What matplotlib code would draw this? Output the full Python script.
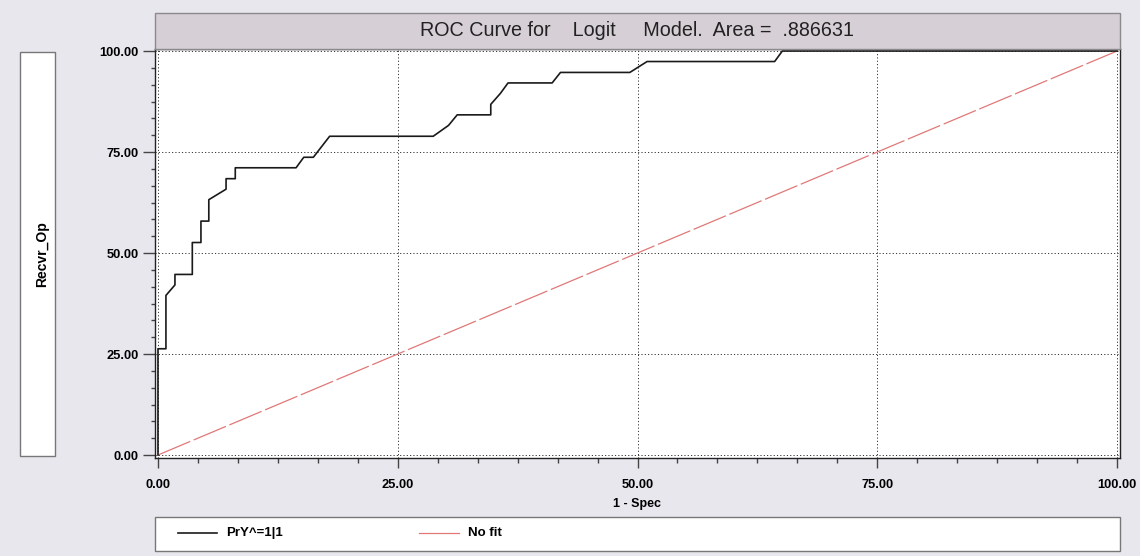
import matplotlib.pyplot as plt
from matplotlib.lines import Line2D
from matplotlib.patches import Rectangle
from matplotlib.ticker import MultipleLocator

plt.rcParams['font.family'] = ['Liberation Sans', 'DejaVu Sans']

# ROC curve points (1 - Spec, Recvr_Op)
spec = [0, 0, 0.83, 0.83, 1.77, 1.77, 3.58, 3.58, 4.48, 4.48, 5.3, 5.3, 7.1, 7.1,
        8.06, 8.06, 14.4, 15.2, 16.2, 17.9, 28.7, 30.3, 31.2, 34.7, 34.7, 35.7,
        36.5, 41.1, 41.97, 49.2, 51.0, 64.3, 65.1, 100]
recvr = [0, 26.3, 26.3, 39.5, 42.1, 44.7, 44.7, 52.6, 52.6, 57.9, 57.9, 63.2, 65.8, 68.4,
         68.4, 71.1, 71.1, 73.7, 73.7, 78.9, 78.9, 81.6, 84.2, 84.2, 86.8, 89.5,
         92.1, 92.1, 94.7, 94.7, 97.4, 97.4, 100, 100]
nofit_x = [0, 100]
nofit_y = [0, 100]

title = "ROC Curve for    Logit     Model.  Area =  .886631"
labels = ["PrY^=1|1", "No fit"]

W, H = 1140, 556
bg = '#e9e7ee'
fig = plt.figure(figsize=(W / 100, H / 100), dpi=100, facecolor=bg)


def box(x0, y0, x1, y1):
    # pixel box (top-down) -> figure coords
    return x0 / W, 1 - y1 / H, (x1 - x0) / W, (y1 - y0) / H


ax = fig.add_axes(box(155, 49, 1120, 458))
ax.plot(spec, recvr, color='#1a1a1a', lw=1.2, zorder=3)
ax.plot(nofit_x, nofit_y, color='#e07878', lw=0.9, dashes=(28, 3), zorder=2)

ax.set_xlim(-0.31, 100.31)
ax.set_ylim(-0.74, 100.5)
ax.xaxis.set_major_locator(MultipleLocator(25))
ax.yaxis.set_major_locator(MultipleLocator(25))
ax.xaxis.set_minor_locator(MultipleLocator(25 / 6))
ax.yaxis.set_minor_locator(MultipleLocator(25 / 6))
ax.xaxis.set_major_formatter('{x:.2f}')
ax.yaxis.set_major_formatter('{x:.2f}')
ax.grid(True, which='major', color='#333333', lw=0.7, linestyle=(0, (1.2, 2.2)))
ax.tick_params(axis='y', which='major', length=8.6, width=1, color='#444444', pad=3)
ax.tick_params(axis='y', which='minor', length=3.2, width=1, color='#444444')
ax.tick_params(axis='x', which='major', length=7.2, width=1, color='#444444', pad=8)
ax.tick_params(axis='x', which='minor', length=3.6, width=1, color='#444444')
for lab in ax.get_xticklabels() + ax.get_yticklabels():
    lab.set_fontweight('bold')
    lab.set_fontsize(9.3)
for s in ax.spines.values():
    s.set_color('#222222')
    s.set_linewidth(1.0)

# title band
fig.patches.append(Rectangle(box(155, 13, 1120, 49)[:2], *box(155, 13, 1120, 49)[2:],
                             transform=fig.transFigure, facecolor='#d7cfd6',
                             edgecolor='#8a8a8a', lw=1))
fig.text(637 / W, 1 - 31 / H, title, ha='center', va='center', fontsize=14.2, color='#222222')

# y label box
fig.patches.append(Rectangle(box(20, 52, 55, 456)[:2], *box(20, 52, 55, 456)[2:],
                             transform=fig.transFigure, facecolor='white',
                             edgecolor='#777777', lw=1))
fig.text(42 / W, 1 - 254 / H, 'Recvr_Op', rotation=90, ha='center', va='center',
         fontsize=10, fontweight='bold')

# x label
fig.text(637 / W, 1 - 504 / H, '1 - Spec', ha='center', va='center',
         fontsize=9, fontweight='bold')

# legend box
fig.patches.append(Rectangle(box(155, 517, 1120, 551)[:2], *box(155, 517, 1120, 551)[2:],
                             transform=fig.transFigure, facecolor='white',
                             edgecolor='#777777', lw=1))
yl = 1 - 533 / H
fig.lines.append(Line2D([178 / W, 217 / W], [yl, yl], transform=fig.transFigure,
                        color='#1a1a1a', lw=1.2))
fig.text(226 / W, yl, labels[0], ha='left', va='center', fontsize=9.5, fontweight='bold')
fig.lines.append(Line2D([419 / W, 459 / W], [yl, yl], transform=fig.transFigure,
                        color='#e07878', lw=0.9))
fig.text(468 / W, yl, labels[1], ha='left', va='center', fontsize=9.5, fontweight='bold')

fig.savefig('out.png', dpi=100, facecolor=bg)
